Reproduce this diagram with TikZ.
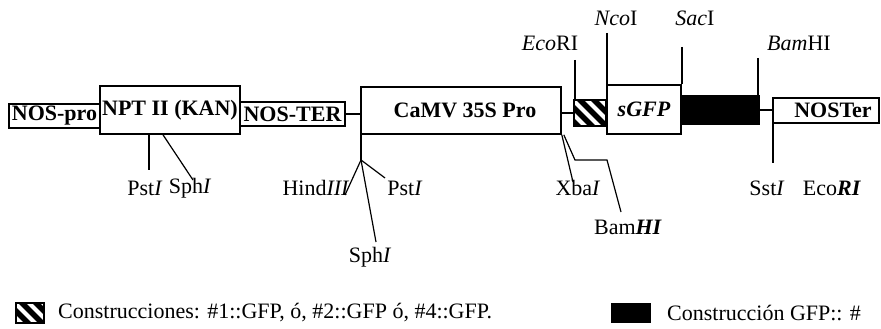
\documentclass[tikz,border=0pt]{standalone}
\usepackage{fontspec}
\setmainfont{Liberation Serif}
\usetikzlibrary{calc}

\begin{document}
\begin{tikzpicture}[x=1pt, y=-1pt,
    every node/.style={inner sep=0pt, font=\fontsize{22}{26}\selectfont},
    gene/.style={draw, line width=1.6pt, font=\fontsize{22}{26}\selectfont\bfseries},
    site/.style={line width=1.2pt},
    stripes/.style={draw, line width=1.6pt, path picture={
        \foreach \k in {-3,...,3}
          \draw[line width=5.5pt] ($(path picture bounding box.north west)+(\k*14pt,6pt)$) -- ++(40pt,-40pt);}},
    solid block/.style={draw, fill=black, line width=1.6pt}
]
\useasboundingbox (0,0) rectangle (881,329);

% ---- construct ----
\node[gene, minimum width=91pt, minimum height=24pt] (nospro) at (54.5,116) {NOS-pro};
\node[gene, minimum width=140pt, minimum height=48pt] (npt) at (170,110) {NPT II (KAN)};
\node[gene, minimum width=105pt, minimum height=24pt] (noster) at (292.5,114) {NOS-TER};
\node[gene, minimum width=200pt, minimum height=47pt] (camv) at (461,110.5) {\hspace*{8pt}CaMV 35S Pro};
\node[stripes, minimum width=32pt, minimum height=26pt] (hatch) at (590,113) {};
\node[gene, minimum width=74pt, minimum height=49pt] (sgfp) at (644,109.5) {\itshape sGFP};
\node[solid block, minimum width=78pt, minimum height=28pt] (block) at (720,110) {};
\node[gene, minimum width=106pt, minimum height=25pt] (nosterm) at (826,110.5) {\hspace*{14pt}NOSTer};
\draw[site] (noster.east) -- (noster.east -| camv.west);
\draw[site] (hatch.west) -- (hatch.west -| camv.east);
\draw[site] (block.east) -- (block.east -| nosterm.west);

% ---- sites above ----
\coordinate (eco1) at (575,60);
\coordinate (nco) at (607,33);
\coordinate (sac) at (682,47);
\coordinate (bam1) at (758,58);
\draw[site] (eco1) -- (eco1 |- hatch.north);
\draw[site] (nco) -- (nco |- sgfp.north);
\draw[site] (sac) -- (sac |- sgfp.north);
\draw[site] (bam1) -- (bam1 |- block.north);
\node (ecoL) at (550,43) {\textit{Eco}RI};
\node (ncoL) at (616,18) {\textit{Nco}I};
\node (sacL) at (695,18) {\textit{Sac}I};
\node (bamL) at (799,43) {\textit{Bam}HI};

% ---- sites below ----
\coordinate (pst1) at (149,170);
\coordinate (sph1) at (193,180);
\draw[site] (pst1 |- npt.south) -- (pst1);
\draw[site] ($(npt.south)+(-7,0)$) -- (sph1);
\coordinate (hj) at (361,160);
\coordinate (hind) at (345,195);
\coordinate (pst2) at (385,178);
\coordinate (sph2) at (376,242);
\draw[site] (hj |- camv.south) -- (hj);
\draw[site] (hj) -- (hind);
\draw[site] (hj) -- (pst2);
\draw[site] (hj) -- (sph2);
\coordinate (xba) at (573,182);
\coordinate (bk1) at (575,160);
\coordinate (bk2) at (607,160);
\coordinate (bam2) at (621,212);
\draw[site] (camv.south east) -- (xba);
\draw[site] ($(camv.south east)+(2,0)$) -- (bk1) -- (bk2) -- (bam2);
\coordinate (sst) at (773,163);
\draw[site] (sst |- nosterm.south) -- (sst);

\node (pstL1) at (145,188) {Pst\textit{I}};
\node (sphL1) at (190,188) {Sph\textit{I}};
\node (hindL) at (316,188) {Hind\textit{III}};
\node (pstL2) at (405,188) {Pst\textit{I}};
\node (xbaL) at (578,188) {Xba\textit{I}};
\node (sstL) at (767,188) {Sst\textit{I}};
\node (ecoL2) at (832,188) {Eco\textbf{\textit{RI}}};
\node (sphL2) at (370,257) {Sph\textit{I}};
\node (bamL2) at (628,227) {Bam\textbf{\textit{HI}}};

% ---- legend ----
\node[stripes, minimum width=28pt, minimum height=20pt] (keyA) at (30,313) {};
\node[anchor=west] (keyAtxt) at (58,313) {Construcciones: \#1::GFP, ó, \#2::GFP ó, \#4::GFP.};
\node[solid block, minimum width=39pt, minimum height=19pt] (keyB) at (631,313) {};
\node[anchor=west] (keyBtxt) at (667,313) {Construcción GFP:: \#};
\end{tikzpicture}
\end{document}
